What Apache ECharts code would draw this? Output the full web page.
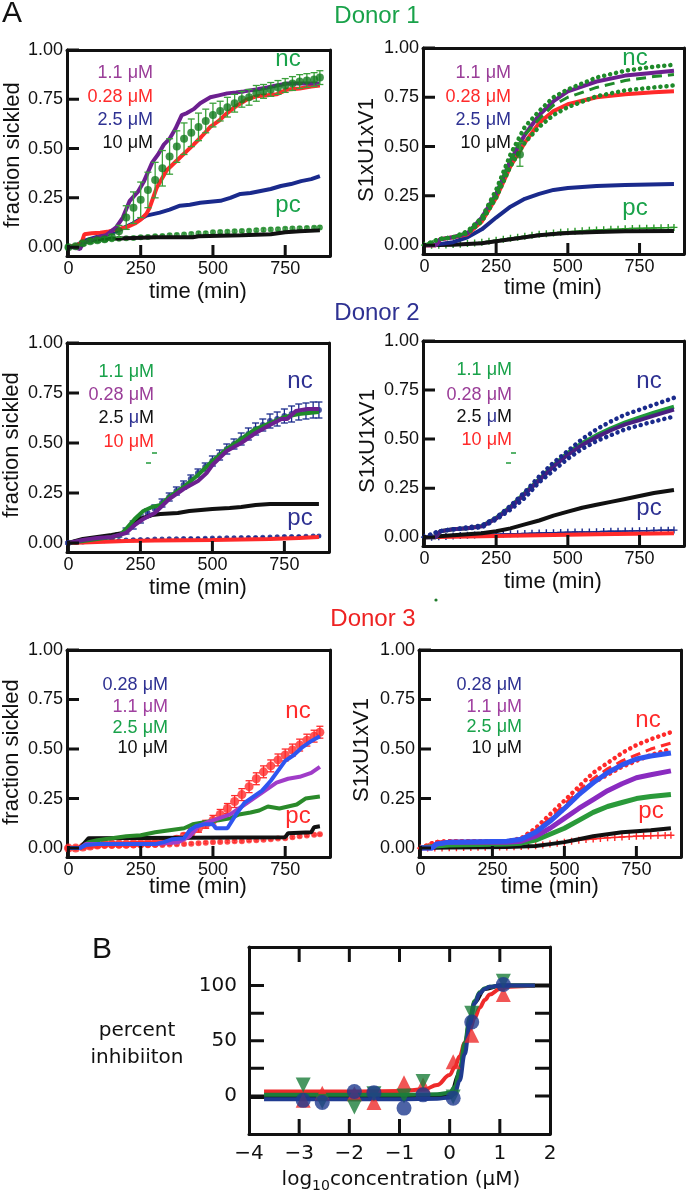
<!DOCTYPE html>
<html><head><meta charset="utf-8">
<script src="https://cdn.jsdelivr.net/npm/echarts@6/dist/echarts.min.js"></script>
<style>html,body{margin:0;padding:0;background:#fff}#c{width:688px;height:1200px}</style>
</head><body><div id="c"></div><script>
// ---------- tick labels ----------
const timeTicks = [0, 250, 500, 750];
const fracTicks = [0, 0.25, 0.5, 0.75, 1.0];
const pctTicks = [0, 25, 50, 75, 100];
const pctLabels = [0, 50, 100];
const logTicks = [-3, -2, -1, 0, 1];
const logLabels = [-4, -3, -2, -1, 0, 1, 2];

// ---------- Donor 1, fraction sickled ----------
const d1f_nc = [[0,0,.005],[25,.005,.005],[50,.02,.01],[75,.03,.01],[100,.035,.01],[125,.04,.01],[150,.05,.015],[175,.08,.03],[200,.15,.06],[225,.2,.08],[250,.24,.09],[275,.29,.09],[300,.34,.09],[325,.4,.09],[350,.46,.09],[375,.51,.08],[400,.55,.08],[425,.58,.07],[450,.61,.07],[475,.64,.06],[500,.67,.06],[525,.69,.05],[550,.71,.05],[575,.73,.045],[600,.75,.04],[625,.76,.04],[650,.78,.04],[675,.79,.035],[700,.8,.035],[725,.81,.035],[750,.82,.035],[775,.83,.035],[800,.84,.035],[825,.845,.035],[850,.85,.035],[870,.86,.035]];
const d1f_pc = [[0,0,.005],[25,.005,.006],[50,.02,.008],[75,.03,.008],[100,.035,.008],[125,.038,.008],[150,.04,.008],[175,.042,.008],[200,.045,.008],[225,.046,.008],[250,.05,.008],[275,.052,.008],[300,.055,.008],[325,.056,.008],[350,.06,.008],[375,.062,.008],[400,.064,.008],[425,.067,.008],[450,.07,.008],[475,.071,.008],[500,.075,.008],[525,.077,.008],[550,.078,.008],[575,.08,.008],[600,.082,.008],[625,.083,.008],[650,.086,.008],[675,.088,.008],[700,.09,.008],[725,.091,.008],[750,.093,.008],[775,.095,.008],[800,.096,.008],[825,.097,.008],[850,.098,.008],[870,.1,.008]];
const d1f_c11 = [[0,0],[20,0],[40,-0.01],[50,.02],[70,.03],[100,.05],[130,.06],[165,.1],[188,.15],[212,.235],[240,.28],[260,.33],[290,.43],[310,.47],[330,.52],[350,.55],[370,.6],[392,.67],[410,.68],[433,.7],[456,.73],[491,.76],[520,.77],[549,.78],[580,.785],[607,.79],[650,.8],[688,.81],[720,.82],[758,.83],[820,.83],[870,.83]];
const d1f_c028 = [[0,0],[30,.01],[45,.02],[55,.065],[80,.07],[110,.073],[140,.08],[165,.09],[200,.1],[230,.12],[250,.14],[270,.17],[281,.2],[305,.3],[340,.39],[386,.455],[433,.52],[460,.56],[491,.61],[520,.64],[549,.68],[585,.72],[619,.75],[650,.765],[688,.77],[720,.775],[758,.8],[800,.805],[840,.815],[870,.82]];
const d1f_c25 = [[0,0],[30,.01],[50,.03],[107,.055],[165,.08],[223,.12],[270,.16],[316,.175],[350,.19],[386,.21],[420,.215],[456,.225],[526,.235],[560,.25],[595,.27],[630,.275],[665,.285],[700,.295],[735,.31],[770,.32],[805,.335],[840,.345],[870,.36]];
const d1f_c10 = [[0,0],[40,.01],[60,.03],[100,.04],[200,.045],[300,.05],[430,.05],[450,.055],[600,.06],[700,.065],[750,.075],[800,.08],[870,.085]];

// ---------- Donor 1, S1xU1xV1 ----------
const d1s_c11 = [[0,0],[40,0],[55,.03],[100,.04],[150,.06],[200,.14],[250,.26],[300,.43],[350,.56],[400,.66],[450,.73],[500,.78],[600,.83],[700,.86],[800,.875],[870,.885]];
const d1s_c028 = [[0,0],[40,0],[55,.03],[100,.04],[150,.055],[200,.12],[250,.24],[300,.4],[350,.52],[400,.62],[450,.68],[500,.715],[600,.75],[700,.765],[800,.775],[870,.78]];
const d1s_c25 = [[0,0],[50,.005],[100,.015],[150,.04],[200,.08],[250,.14],[300,.195],[350,.235],[400,.26],[450,.28],[500,.29],[600,.3],[700,.305],[870,.31]];
const d1s_c10 = [[0,0],[100,.002],[200,.01],[250,.02],[300,.03],[350,.04],[400,.05],[450,.057],[500,.062],[600,.067],[700,.07],[870,.072]];
const d1s_ncHi = [[0,0],[50,.03],[100,.04],[150,.07],[200,.14],[250,.28],[300,.46],[350,.6],[400,.68],[450,.75],[500,.79],[600,.85],[700,.885],[800,.905],[870,.915]];
const d1s_ncMid = [[0,0],[50,.03],[100,.04],[150,.065],[200,.13],[250,.26],[300,.43],[350,.56],[400,.64],[450,.71],[500,.75],[600,.8],[700,.835],[800,.855],[870,.865]];
const d1s_ncLo = [[0,0],[50,.03],[100,.04],[150,.06],[200,.12],[250,.24],[300,.4],[350,.52],[400,.6],[450,.66],[500,.7],[600,.755],[700,.785],[800,.8],[870,.81]];
const d1s_ncPt = [[333,.46,.06]];
const d1s_pc = [[0,0],[25,0],[50,0],[75,.001],[100,.003],[125,.005],[150,.008],[175,.011],[200,.015],[225,.02],[250,.025],[275,.03],[300,.035],[325,.04],[350,.045],[375,.05],[400,.055],[425,.058],[450,.062],[475,.065],[500,.068],[525,.07],[550,.073],[575,.075],[600,.077],[625,.078],[650,.08],[675,.081],[700,.083],[725,.084],[750,.085],[775,.086],[800,.087],[825,.088],[850,.089],[870,.09]];

// ---------- Donor 2, fraction sickled ----------
const d2f_nc = [[0,0,.005],[25,.005,.005],[50,.01,.005],[75,.015,.008],[100,.02,.008],[125,.025,.01],[150,.03,.01],[175,.04,.01],[200,.06,.015],[225,.09,.02],[250,.12,.02],[275,.15,.02],[300,.17,.02],[325,.2,.02],[350,.23,.02],[375,.26,.02],[400,.29,.02],[425,.32,.02],[450,.35,.02],[475,.38,.02],[500,.41,.025],[525,.44,.025],[550,.47,.025],[575,.495,.025],[600,.52,.03],[625,.545,.03],[650,.57,.03],[675,.59,.03],[700,.61,.035],[725,.62,.035],[750,.635,.035],[775,.645,.04],[800,.655,.04],[825,.66,.04],[850,.665,.04],[870,.665,.04]];
const d2f_pc = [[0,0,.004],[25,.003,.004],[50,.005,.004],[75,.008,.004],[100,.01,.004],[125,.011,.004],[150,.012,.004],[175,.013,.004],[200,.015,.004],[225,.016,.004],[250,.017,.004],[275,.018,.004],[300,.02,.004],[325,.02,.004],[350,.021,.004],[375,.021,.004],[400,.022,.004],[425,.023,.004],[450,.023,.004],[475,.024,.004],[500,.025,.004],[525,.025,.004],[550,.026,.004],[575,.026,.004],[600,.027,.004],[625,.028,.004],[650,.028,.004],[675,.029,.004],[700,.03,.004],[725,.031,.004],[750,.032,.004],[775,.032,.004],[800,.033,.004],[825,.034,.004],[850,.035,.004],[870,.035,.004]];
const d2f_c11 = [[0,0],[50,.01],[100,.02],[150,.03],[180,.04],[200,.07],[230,.12],[260,.16],[290,.18],[320,.19],[350,.23],[400,.28],[450,.34],[500,.41],[550,.47],[600,.52],[650,.57],[700,.6],[750,.63],[800,.645],[870,.655]];
const d2f_c028 = [[0,0],[50,.015],[100,.025],[150,.03],[200,.05],[230,.09],[260,.12],[300,.15],[350,.22],[400,.27],[450,.31],[480,.35],[500,.39],[550,.46],[600,.5],[650,.55],[700,.59],[740,.62],[760,.62],[790,.66],[830,.67],[870,.67]];
const d2f_c25 = [[0,0],[50,.02],[100,.03],[150,.04],[190,.05],[220,.09],[250,.12],[290,.14],[320,.145],[380,.15],[420,.16],[500,.17],[560,.175],[600,.18],[650,.19],[700,.195],[870,.195]];
const d2f_c10 = [[0,0],[100,.005],[200,.01],[300,.012],[500,.015],[700,.02],[800,.025],[870,.03]];

// ---------- Donor 2, S1xU1xV1 ----------
const d2s_c11 = [[0,0],[40,0],[55,.03],[100,.04],[150,.045],[200,.057],[250,.098],[300,.155],[350,.225],[400,.295],[450,.365],[500,.43],[550,.48],[600,.52],[650,.555],[700,.585],[750,.61],[800,.635],[870,.665]];
const d2s_c028 = [[0,0],[40,0],[55,.03],[100,.04],[150,.045],[200,.055],[250,.095],[300,.15],[350,.22],[400,.29],[450,.36],[500,.42],[550,.47],[600,.51],[650,.545],[700,.575],[750,.597],[800,.62],[870,.65]];
const d2s_c25 = [[0,0],[50,.005],[100,.01],[200,.02],[250,.03],[300,.045],[350,.065],[400,.085],[450,.11],[500,.13],[550,.15],[600,.165],[650,.18],[700,.195],[750,.21],[800,.225],[870,.24]];
const d2s_c10 = [[0,0],[200,.005],[400,.01],[600,.015],[870,.02]];
const d2s_ncHi = [[0,0],[50,.03],[100,.04],[200,.06],[250,.1],[300,.16],[350,.23],[400,.31],[450,.38],[500,.44],[550,.5],[600,.55],[650,.59],[700,.625],[750,.65],[800,.675],[870,.71]];
const d2s_ncLo = [[0,0],[50,.03],[100,.04],[200,.05],[250,.09],[300,.14],[350,.2],[400,.28],[450,.34],[500,.4],[550,.45],[600,.49],[650,.52],[700,.55],[750,.57],[800,.59],[870,.615]];
const d2s_pc = [[0,0],[25,0],[50,.002],[75,.004],[100,.006],[125,.008],[150,.01],[175,.011],[200,.013],[225,.014],[250,.015],[275,.016],[300,.017],[325,.018],[350,.019],[375,.02],[400,.021],[425,.022],[450,.023],[475,.024],[500,.025],[525,.026],[550,.027],[575,.027],[600,.028],[625,.029],[650,.03],[675,.03],[700,.031],[725,.032],[750,.033],[775,.033],[800,.034],[825,.035],[850,.035],[870,.036]];

// ---------- Donor 3, fraction sickled ----------
const d3f_nc = [[0,0,.005],[25,0,.005],[50,.005,.008],[75,.01,.008],[100,.015,.01],[125,.02,.01],[150,.02,.01],[175,.02,.01],[200,.02,.01],[225,.022,.01],[250,.022,.01],[275,.024,.01],[300,.025,.01],[325,.03,.012],[350,.035,.012],[375,.045,.015],[400,.06,.015],[425,.08,.02],[450,.1,.02],[475,.12,.02],[500,.14,.025],[525,.17,.025],[550,.2,.025],[575,.235,.03],[600,.27,.03],[625,.31,.03],[650,.35,.03],[675,.385,.03],[700,.415,.03],[725,.445,.03],[750,.47,.03],[775,.495,.03],[800,.52,.03],[825,.545,.03],[850,.565,.03],[870,.585,.03]];
const d3f_pc = [[0,0,.005],[25,0,.005],[50,.005,.005],[75,.008,.005],[100,.01,.005],[125,.01,.005],[150,.011,.005],[175,.012,.005],[200,.012,.005],[225,.013,.005],[250,.014,.005],[275,.014,.005],[300,.015,.005],[325,.016,.005],[350,.018,.005],[375,.019,.005],[400,.02,.005],[425,.022,.005],[450,.025,.005],[475,.027,.005],[500,.03,.005],[525,.031,.005],[550,.032,.005],[575,.034,.005],[600,.035,.005],[625,.038,.005],[650,.04,.005],[675,.042,.005],[700,.045,.005],[725,.048,.005],[750,.05,.005],[775,.055,.005],[800,.06,.005],[825,.063,.005],[850,.067,.005],[870,.07,.005]];
const d3f_c028 = [[0,0],[40,0],[60,.015],[100,.02],[300,.02],[330,.03],[360,.045],[400,.05],[420,.09],[440,.11],[470,.12],[500,.12],[510,.1],[550,.1],[580,.17],[610,.23],[640,.26],[670,.29],[700,.34],[730,.4],[750,.44],[780,.47],[810,.51],[840,.54],[870,.565]];
const d3f_c11 = [[0,0],[40,0],[60,.02],[300,.02],[380,.03],[420,.06],[450,.11],[480,.13],[520,.15],[560,.17],[600,.21],[640,.25],[680,.29],[720,.33],[760,.35],[800,.36],[840,.38],[870,.41]];
const d3f_c25 = [[0,0],[40,0],[70,.03],[100,.04],[150,.05],[200,.06],[250,.065],[300,.08],[350,.09],[400,.1],[430,.12],[470,.13],[520,.14],[560,.15],[590,.17],[630,.18],[660,.19],[690,.21],[730,.2],[760,.21],[790,.22],[820,.25],[870,.26]];
const d3f_c10 = [[0,0],[40,0],[70,.05],[750,.055],[760,.075],[840,.08],[850,.105],[870,.11]];

// ---------- Donor 3, S1xU1xV1 ----------
const d3s_c028 = [[0,0],[40,0],[55,.02],[100,.03],[300,.035],[350,.045],[400,.08],[450,.135],[500,.2],[550,.27],[600,.33],[650,.38],[700,.42],[750,.45],[800,.465],[870,.48]];
const d3s_c11 = [[0,0],[40,0],[55,.02],[100,.03],[300,.03],[350,.035],[400,.06],[450,.1],[500,.15],[550,.2],[600,.245],[650,.29],[700,.325],[750,.355],[800,.37],[870,.39]];
const d3s_c25 = [[0,0],[50,.01],[100,.015],[300,.02],[350,.025],[400,.04],[450,.07],[500,.1],[550,.14],[600,.18],[650,.21],[700,.23],[750,.25],[800,.26],[870,.27]];
const d3s_c10 = [[0,0],[100,.003],[300,.005],[400,.01],[450,.02],[500,.03],[550,.045],[600,.06],[650,.07],[700,.08],[750,.085],[800,.09],[870,.1]];
const d3s_ncHi = [[0,0],[50,.03],[100,.035],[300,.035],[350,.05],[400,.1],[450,.17],[500,.24],[550,.31],[600,.38],[650,.43],[700,.48],[750,.52],[800,.55],[870,.585]];
const d3s_ncMid = [[0,0],[50,.03],[100,.035],[300,.035],[350,.045],[400,.09],[450,.15],[500,.22],[550,.29],[600,.35],[650,.4],[700,.44],[750,.47],[800,.5],[870,.53]];
const d3s_ncLo = [[0,0],[50,.03],[100,.035],[300,.035],[350,.04],[400,.08],[450,.14],[500,.2],[550,.27],[600,.33],[650,.37],[700,.41],[750,.44],[800,.47],[870,.5]];
const d3s_pc = [[0,0],[25,0],[50,0],[75,.001],[100,.002],[125,.002],[150,.003],[175,.003],[200,.004],[225,.004],[250,.005],[275,.005],[300,.006],[325,.007],[350,.008],[375,.01],[400,.012],[425,.016],[450,.02],[475,.025],[500,.03],[525,.035],[550,.04],[575,.043],[600,.046],[625,.049],[650,.052],[675,.054],[700,.056],[725,.058],[750,.06],[775,.061],[800,.062],[825,.063],[850,.064],[870,.065]];

// ---------- B: percent inhibition ----------
const logConc = [-2.92, -2.54, -1.9, -1.51, -0.91, -0.53, 0.07, 0.44, 1.07];
const inhRed   = [-4, 2.5, 2, -6, 12, 10, 31, 55, 92];
const inhGreen = [10, -5, -10, 2, 0, 13, -1, 75, 104];
const inhBlue  = [-4, -6, 4, 3, -11, 1, -2, 67, 101];
const fitRed   = [[-3.7,4],[-2,4],[-1,4.5],[-0.5,6],[-0.25,10],[0,19],[0.1,26],[0.2,36],[0.3,48],[0.4,60],[0.5,71],[0.6,80],[0.7,87],[0.8,92],[1,97],[1.2,99],[1.7,100]];
const fitGreen = [[-3.7,1],[-1,1],[-0.25,1.5],[0,3],[0.1,8],[0.2,24],[0.3,48],[0.4,71],[0.5,86],[0.6,94],[0.7,97.5],[0.8,99],[1,100],[1.7,100]];
const fitBlue  = [[-3.7,-3],[-1,-3],[-0.25,-2.5],[0,-1.5],[0.1,2],[0.2,14],[0.3,38],[0.4,65],[0.5,84],[0.6,93],[0.7,97],[0.8,99],[1,100],[1.7,100]];
const fitBlack = [[-4,-1],[-1,-1],[0,0],[0.2,20],[0.3,45],[0.4,68],[0.5,85],[0.7,97],[1,100],[2,100]];

// ================= layout / styling =================
const FA = '"Liberation Sans", Arial, sans-serif';
const FB = '"DejaVu Sans", sans-serif';
const K = '#111';
const C = {
  green: '#1f8a2a', greenT: '#19a24a', purple: '#6c1f8f', purpleT: '#9a3d98',
  red: '#ff2a2a', navy: '#1a2a8c', navyT: '#2e3192', blue: '#2f55f0', purple3: '#a03cc8', purple3b: '#8a2bc0',
  bRed: '#ee2a2a', bGreen: '#1b7d3a', bBlue: '#1f3b8f'
};
const panels = [
  {l:67, t:50, w:263, h:206},
  {l:423, t:48, w:261, h:206},
  {l:67, t:343, w:262, h:209},
  {l:423, t:341, w:261, h:205},
  {l:67, t:650, w:263, h:207},
  {l:419, t:650, w:262, h:207}
];
const panelB = {l:249, t:947, w:301, h:187};
const AX = {xmin:-5, xmax:905, ymin:-0.045, ymax:1};
const BX = {xmin:-4, xmax:2, ymin:-34.5, ymax:135};
const frameLine = () => ({show:true, onZero:false, lineStyle:{color:K, width:3}});
const grids = [], xAxes = [], yAxes = [];
function frameAxes(gi, r, xb, yl) {
  const base = (extra) => Object.assign({gridIndex:gi, type:'value', axisLine:frameLine(), splitLine:{show:false}, axisTick:{show:false}}, extra);
  xAxes.push(base(Object.assign({position:'bottom', min:r.xmin, max:r.xmax}, xb)));
  xAxes.push(base({position:'top', min:r.xmin, max:r.xmax, axisLabel:{show:false}}));
  yAxes.push(base(Object.assign({position:'left', min:r.ymin, max:r.ymax}, yl)));
  yAxes.push(base({position:'right', min:r.ymin, max:r.ymax, axisLabel:{show:false}}));
}
panels.forEach((p, i) => {
  grids.push({left:p.l, top:p.t, width:p.w, height:p.h});
  frameAxes(i, AX,
    {axisLabel:{customValues:timeTicks, fontSize:18, color:K, fontFamily:FA, margin:4}},
    {axisLabel:{customValues:fracTicks, fontSize:18, color:K, fontFamily:FA, margin:4, formatter:v=>Number(v).toFixed(2)}});
});
grids.push({left:panelB.l, top:panelB.t, width:panelB.w, height:panelB.h});
const minus = v => String(v).replace('-', '\u2212');
frameAxes(6, BX,
  {axisLabel:{customValues:logLabels, fontSize:20, color:K, fontFamily:FB, margin:10, formatter:minus}},
  {axisLabel:{customValues:pctLabels, fontSize:20, color:K, fontFamily:FB, margin:12}});

// ================= series helpers =================
const series = [];
function line(gi, data, color, width, extra) {
  series.push(Object.assign({type:'line', xAxisIndex:2*gi, yAxisIndex:2*gi, data, showSymbol:false, symbol:'none',
    lineStyle:{color, width}, itemStyle:{color}, animation:false, z:3}, extra || {}));
}
// tick marks drawn as short line series in data space (tick value on one axis, axis edge + tick length on the other)
function tickLines(gi, r, xVals, yVals, xLenPx, yLenPx, rect, both) {
  const dy = (r.ymax - r.ymin) * xLenPx / rect.h;   // vertical tick length in y units
  const dx = (r.xmax - r.xmin) * yLenPx / rect.w;   // horizontal tick length in x units
  xVals.forEach(v => {
    line(gi, [[v, r.ymin], [v, r.ymin + dy]], K, 3, {z:9, clip:false});
    if (both) line(gi, [[v, r.ymax], [v, r.ymax - dy]], K, 3, {z:9, clip:false});
  });
  yVals.forEach(v => {
    line(gi, [[r.xmin, v], [r.xmin + dx, v]], K, 3, {z:9, clip:false});
    if (both) line(gi, [[r.xmax, v], [r.xmax - dx, v]], K, 3, {z:9, clip:false});
  });
}
function errbars(gi, data, color, mSize, lw, cap, z, mColor) {
  series.push({type:'custom', xAxisIndex:2*gi, yAxisIndex:2*gi, data, z:z, animation:false,
    encode:{x:0, y:1},
    renderItem:(params, api) => {
      const x = api.value(0), y = api.value(1), e = api.value(2);
      const hi = api.coord([x, y + e]), lo = api.coord([x, y - e]);
      const st = {stroke:color, lineWidth:lw};
      return {type:'group', children:[
        {type:'line', shape:{x1:hi[0], y1:hi[1], x2:lo[0], y2:lo[1]}, style:st},
        {type:'line', shape:{x1:hi[0]-cap, y1:hi[1], x2:hi[0]+cap, y2:hi[1]}, style:st},
        {type:'line', shape:{x1:lo[0]-cap, y1:lo[1], x2:lo[0]+cap, y2:lo[1]}, style:st}
      ]};
    }});
  series.push({type:'scatter', xAxisIndex:2*gi, yAxisIndex:2*gi, data:data.map(d => [d[0], d[1]]), symbol:'circle',
    symbolSize:mSize, itemStyle:{color:mColor || color}, z:z, animation:false});
}
const PLUS = 'path://M4,0H6V4H10V6H6V10H4V6H0V4H4Z';
function plusLine(gi, data, color) {
  line(gi, data, color, 1.5, {showSymbol:true, symbol:PLUS, symbolSize:7, z:2});
}
const dotted = {type:[0.1, 6], cap:'round'};
const dashed = [10, 6];

panels.forEach((p, i) => tickLines(i, AX, timeTicks, fracTicks, 11, 12, p, false));
tickLines(6, BX, logTicks, pctTicks, 15, 15, panelB, true);

// ---- panel 0: Donor 1 fraction
errbars(0, d1f_pc, '#3aa03a', 6, 1, 2, 2, C.green);
line(0, d1f_c10, K, 4);
line(0, d1f_c25, C.navy, 4);
line(0, d1f_c028, C.red, 4);
line(0, d1f_c11, C.purple, 4);
errbars(0, d1f_nc, '#3aa03a', 8, 1.3, 3.5, 4, '#137a1e');
// ---- panel 1: Donor 1 S1
plusLine(1, d1s_pc, '#2a9a2a');
line(1, d1s_c10, K, 4);
line(1, d1s_c25, C.navy, 4);
line(1, d1s_ncLo, C.green, 4, {lineStyle:Object.assign({color:C.green, width:4.5}, dotted), z:4});
line(1, d1s_ncHi, C.green, 4, {lineStyle:Object.assign({color:C.green, width:4.5}, dotted), z:4});
line(1, d1s_c028, C.red, 4);
line(1, d1s_c11, C.purple, 4);
line(1, d1s_ncMid, C.green, 3, {lineStyle:{color:C.green, width:3, type:dashed}, z:4});
errbars(1, d1s_ncPt, '#3aa03a', 8, 1.3, 3.5, 5, '#137a1e');
// ---- panel 2: Donor 2 fraction
errbars(2, d2f_pc, C.navy, 5, 1, 2, 2);
line(2, d2f_c10, C.red, 4);
errbars(2, d2f_nc, C.navy, 6, 1.3, 3.5, 2);
line(2, d2f_c25, K, 4);
line(2, d2f_c11, C.green, 4);
line(2, d2f_c028, C.purple, 4);
// ---- panel 3: Donor 2 S1
line(3, d2s_c10, C.red, 4);
plusLine(3, d2s_pc, C.navy);
line(3, d2s_c25, K, 4);
line(3, d2s_c11, '#1f9a3a', 4);
line(3, d2s_c028, '#4a1f80', 4);
line(3, d2s_ncHi, C.navy, 4, {lineStyle:Object.assign({color:C.navy, width:4.5}, dotted), z:4});
line(3, d2s_ncLo, C.navy, 4, {lineStyle:Object.assign({color:C.navy, width:4.5}, dotted), z:4});
// ---- panel 4: Donor 3 fraction
errbars(4, d3f_pc, C.red, 6, 1, 2, 2);
errbars(4, d3f_nc, C.red, 9, 1.3, 3.5, 2);
line(4, d3f_c10, K, 4);
line(4, d3f_c25, '#2a8a2a', 4);
line(4, d3f_c11, C.purple3, 4);
line(4, d3f_c028, C.blue, 4);
// ---- panel 5: Donor 3 S1
plusLine(5, d3s_pc, C.red);
line(5, d3s_c10, K, 4);
line(5, d3s_ncHi, C.red, 4, {lineStyle:Object.assign({color:C.red, width:4.5}, dotted), z:2});
line(5, d3s_ncMid, C.red, 3, {lineStyle:{color:C.red, width:3, type:dashed}, z:2});
line(5, d3s_ncLo, C.red, 4, {lineStyle:Object.assign({color:C.red, width:4.5}, dotted), z:2});
line(5, d3s_c25, '#2a9a3a', 5);
line(5, d3s_c11, C.purple3b, 5);
line(5, d3s_c028, C.blue, 5);
// ---- panel B
const smooth = {smooth:0.4, smoothMonotone:'x'};
line(6, fitBlack, K, 4, smooth);
line(6, fitRed, C.bRed, 4, smooth);
line(6, fitGreen, C.bGreen, 4, smooth);
line(6, fitBlue, C.bBlue, 4, smooth);
series.push({type:'scatter', xAxisIndex:12, yAxisIndex:12, data:logConc.map((x,i)=>[x, inhRed[i]]), symbol:'triangle', symbolSize:15, itemStyle:{color:C.bRed}, z:5, animation:false});
series.push({type:'scatter', xAxisIndex:12, yAxisIndex:12, data:logConc.map((x,i)=>[x, inhGreen[i]]), symbol:'triangle', symbolRotate:180, symbolSize:15, itemStyle:{color:C.bGreen}, z:5, animation:false});
series.push({type:'scatter', xAxisIndex:12, yAxisIndex:12, data:logConc.map((x,i)=>[x, inhBlue[i]]), symbol:'circle', symbolSize:15, itemStyle:{color:C.bBlue}, z:6, animation:false});

// ================= texts =================
const g = [];
function txt(x, y, text, size, color, opts) {
  g.push(Object.assign({type:'text', x, y, style:Object.assign({text, fontSize:size, fill:color, fontFamily:FA,
    textAlign:'center', textVerticalAlign:'middle'}, (opts && opts.style) || {})}, (opts && opts.el) || {}));
}
txt(12, 14, 'A', 30, K);
txt(102, 950, 'B', 30, K);
txt(377, 16, 'Donor 1', 24, C.greenT);
txt(377, 313, 'Donor 2', 24, C.navyT);
txt(373, 619, 'Donor 3', 24, '#ee2222');
[[198,292],[553,288],[198,588],[553,582],[198,887],[550,887]].forEach(p => txt(p[0], p[1], 'time (min)', 22, K));
[[13,155],[367,150],[12,445],[368,441],[12,752],[362,750]].forEach((p, i) =>
  txt(p[0], p[1], i % 2 === 0 ? 'fraction sickled' : 'S1xU1xV1', 22, K, {el:{rotation:Math.PI/2}}));
function leg(x, ys, items) {
  items.forEach((it, i) => g.push({type:'text', x, y:ys[i], style:{text:it, fontSize:18, fontFamily:FA,
    textAlign:'right', textVerticalAlign:'middle', rich:{
      p:{fill:C.purpleT, fontSize:18, fontFamily:FA}, r:{fill:C.red, fontSize:18, fontFamily:FA},
      b:{fill:C.navyT, fontSize:18, fontFamily:FA}, k:{fill:K, fontSize:18, fontFamily:FA},
      g:{fill:C.greenT, fontSize:18, fontFamily:FA}, m:{fill:'#a040a0', fontSize:18, fontFamily:FA}}}}));
}
leg(153, [73,97,120,143], ['{p|1.1 μM}', '{r|0.28 μM}', '{b|2.5 μM}', '{k|10 μM}']);
leg(511, [73,97,120,143], ['{p|1.1 μM}', '{r|0.28 μM}', '{b|2.5 μM}', '{k|10 μM}']);
leg(154, [372,395,418,442], ['{g|1.1 μM}', '{p|0.28 μM}', '{k|2.5 }{b|μ}{k|M}', '{r|10 μM}']);
leg(512, [370,395,417,440], ['{g|1.1 μM}', '{p|0.28 μM}', '{k|2.5 }{b|μ}{k|M}', '{r|10 μM}']);
leg(168, [685,707,728,748], ['{b|0.28 μM}', '{m|1.1 μM}', '{g|2.5 μM}', '{k|10 μM}']);
leg(522, [685,707,727,748], ['{b|0.28 μM}', '{m|1.1 μM}', '{g|2.5 μM}', '{k|10 μM}']);
[[288,59,C.greenT],[635,58,C.greenT],[300,381,C.navyT],[649,381,C.navyT],[298,711,C.red],[648,720,C.red]].forEach(p => txt(p[0], p[1], 'nc', 24, p[2]));
[[288,205,C.greenT],[635,208,C.greenT],[300,518,C.navyT],[649,508,C.navyT],[298,816,C.red],[651,811,C.red]].forEach(p => txt(p[0], p[1], 'pc', 24, p[2]));
[[512,517,148],[152,157,453],[146,151,463],[511,516,453],[506,511,463]].forEach(s =>
  g.push({type:'line', shape:{x1:s[0], y1:s[2], x2:s[1], y2:s[2]}, style:{stroke:'#1f9a3a', lineWidth:1.5}}));
g.push({type:'circle', shape:{cx:436, cy:600, r:1.6}, style:{fill:'#1f7a2a'}});
g.push({type:'text', x:137, y:1031, style:{text:'percent', fontSize:20, fontFamily:FB, fill:K, textAlign:'center', textVerticalAlign:'middle'}});
g.push({type:'text', x:137, y:1058, style:{text:'inhibiiton', fontSize:20, fontFamily:FB, fill:K, textAlign:'center', textVerticalAlign:'middle'}});
g.push({type:'text', x:401, y:1180, style:{text:'{a|log}{s|10}{a|concentration (μM)}', textAlign:'center', textVerticalAlign:'middle',
  rich:{a:{fontSize:20, fontFamily:FB, fill:K}, s:{fontSize:14, fontFamily:FB, fill:K, padding:[12,0,0,0]}}}});

const chart = echarts.init(document.getElementById('c'), null, {renderer:'canvas'});
chart.setOption({animation:false, backgroundColor:'#fff', grid:grids, xAxis:xAxes, yAxis:yAxes, series, graphic:{elements:g}});
</script></body></html>
